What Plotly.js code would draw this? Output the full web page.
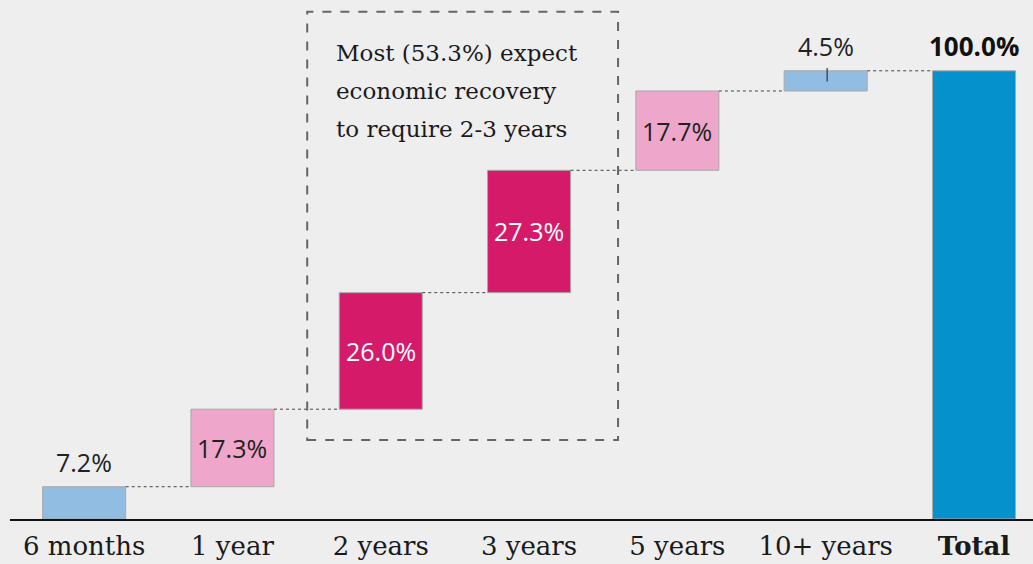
<!DOCTYPE html>
<html><head><meta charset="utf-8">
<script src="https://cdn.plot.ly/plotly-3.0.1.min.js"></script>
<style>html,body{margin:0;padding:0;background:#eeeeee;}</style>
</head><body>
<div id="chart" style="width:1033px;height:564px;"></div>
<script>
const categories = ["6 months", "1 year", "2 years", "3 years", "5 years", "10+ years", "Total"];
const values = [7.2, 17.3, 26.0, 27.3, 17.7, 4.5, 100.0];
const measures = ["relative","relative","relative","relative","relative","relative","total"];
const valueLabels = ["7.2%", "17.3%", "26.0%", "27.3%", "17.7%", "4.5%", "100.0%"];
const labelPlacement = ["above","inside","inside","inside","inside","above","above"];
const barColors = ["#92bde3", "#eea6ca", "#d51a6a", "#d51a6a", "#eea6ca", "#92bde3", "#0591cb"];
const labelColors = ["#222222", "#222222", "#ffffff", "#ffffff", "#222222", "#222222", "#111111"];
const noteLines = ["Most (53.3%) expect", "economic recovery", "to require 2-3 years"];

// compute bases
const bases = [], tops = [];
let run = 0;
values.forEach((v, i) => {
  if (measures[i] === "total") { bases.push(0); tops.push(v); run = v; }
  else { bases.push(run); run += v; tops.push(run); }
});
const xs = categories.map((c, i) => i);
const barW = 0.56;

const traces = [];
traces.push({
  type: "bar", x: xs, y: values, base: bases, width: barW,
  marker: {color: barColors, line: {color: "#a9a9a9", width: 1}},
  hoverinfo: "skip", showlegend: false
});
// connectors
for (let i = 0; i < values.length - 1; i++) {
  traces.push({
    type: "scatter", mode: "lines",
    x: [i + barW/2, i + 1 - barW/2], y: [tops[i], tops[i]],
    line: {color: "#444", width: 1, dash: "dot"},
    hoverinfo: "skip", showlegend: false
  });
}

const annotations = [];
values.forEach((v, i) => {
  const inside = labelPlacement[i] === "inside";
  const isTotal = i === values.length - 1;
  annotations.push({
    x: i, xref: "x", yref: "y",
    y: inside ? (bases[i] + tops[i]) / 2 : tops[i],
    yshift: inside ? 0 : 25,
    text: isTotal ? "<b>" + valueLabels[i] + "</b>" : valueLabels[i],
    showarrow: false,
    font: {family: "Open Sans, Noto Sans, sans-serif", size: isTotal ? 26 : 25, color: labelColors[i]},
    xanchor: "center", yanchor: "middle"
  });
});
noteLines.forEach((t, k) => {
  annotations.push({
    x: 1.685, y: 113.2, xref: "x", yref: "y", xanchor: "left", yanchor: "middle",
    yshift: -41 - 38 * k, text: t, showarrow: false, align: "left",
    font: {family: "DejaVu Serif, serif", size: 23, color: "#1a1a1a"}
  });
});

const shapes = [
  {type: "rect", xref: "x", yref: "y", x0: 1.504, x1: 3.6, y0: 17.6, y1: 113.2,
   line: {color: "#666", width: 2, dash: "dash"}, fillcolor: "rgba(0,0,0,0)"},
  {type: "line", xref: "x", yref: "y", x0: 5.01, x1: 5.01, y0: tops[5] - 2.4, y1: tops[5] + 0.6,
   line: {color: "#333", width: 1.2}}
];

const tickText = categories.map((c, i) => i === categories.length - 1 ? "<b>" + c + "</b>" : c);

const layout = {
  width: 1033, height: 564,
  margin: {l: 10, r: 0, t: 0, b: 45, pad: 0},
  paper_bgcolor: "#eeeeee", plot_bgcolor: "#eeeeee",
  showlegend: false,
  bargap: 0,
  xaxis: {
    range: [-0.5, 6.398], tickvals: xs, ticktext: tickText,
    showgrid: false, zeroline: false, showline: true, linecolor: "#111", linewidth: 2,
    ticks: "", fixedrange: true, ticklabelstandoff: 3,
    tickfont: {family: "DejaVu Serif, serif", size: 26, color: "#1a1a1a"}
  },
  yaxis: {range: [0, 115.8], visible: false, showgrid: false, zeroline: false, fixedrange: true},
  annotations: annotations,
  shapes: shapes
};
Plotly.newPlot("chart", traces, layout, {displayModeBar: false, staticPlot: true});
</script>
</body></html>
